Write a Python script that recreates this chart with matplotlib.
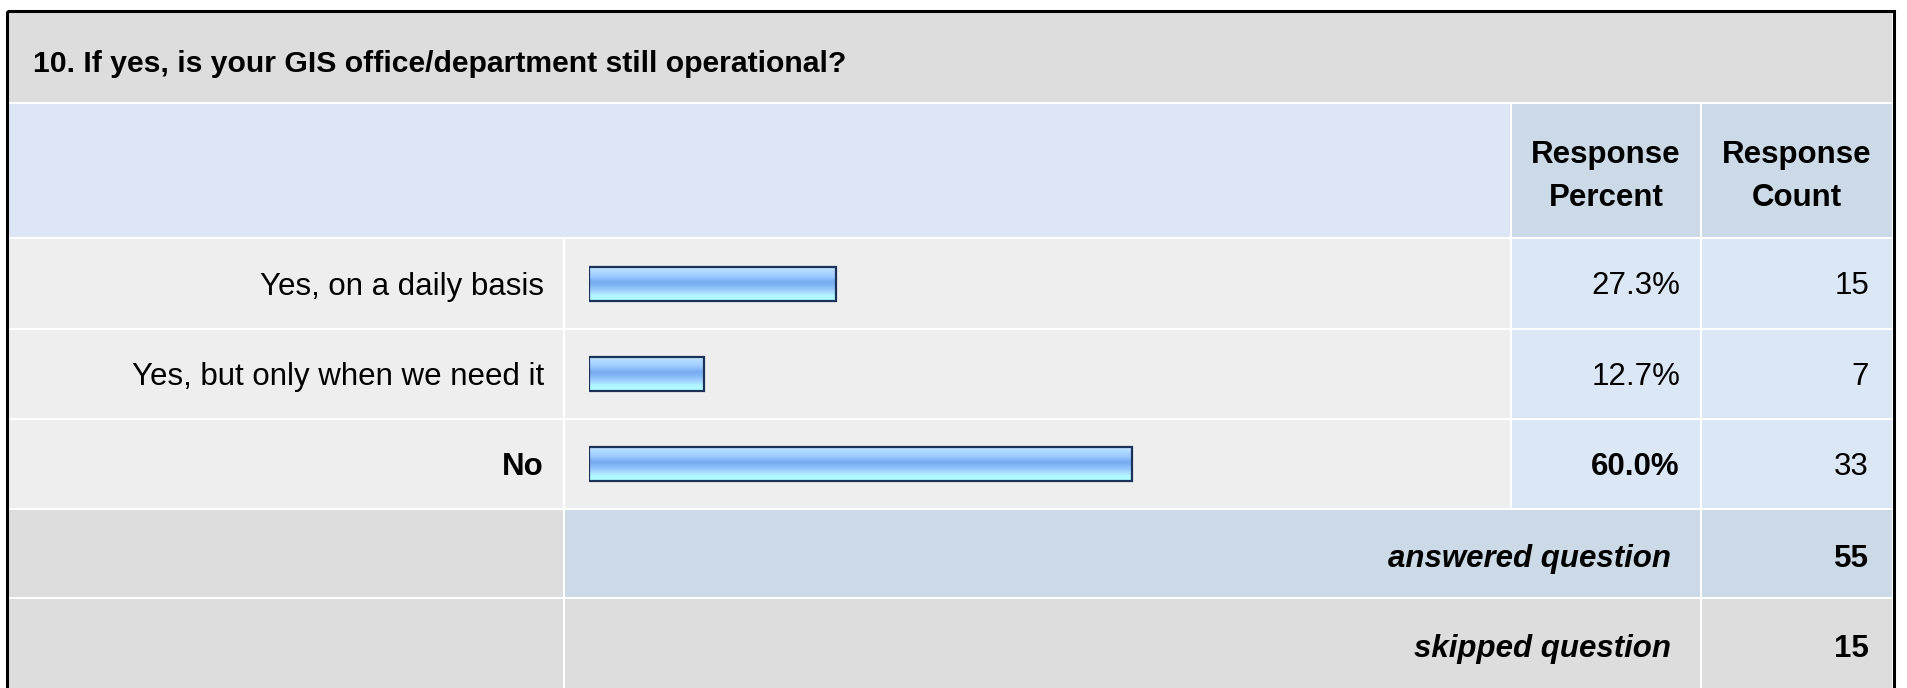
"""
Survey result table: question 10, GIS office still operational.
Drawn as a table of cells with a horizontal bar for each answer.
"""

import numpy as np
import matplotlib.pyplot as plt
from matplotlib.patches import Rectangle
from matplotlib.colors import LinearSegmentedColormap

# ==================== DATA ====================

question = '10. If yes, is your GIS office/department still operational?'
categories = ['Yes, on a daily basis', 'Yes, but only when we need it', 'No']
percents = [27.3, 12.7, 60.0]
counts = [15, 7, 33]
answered = 55
skipped = 15
col_headers = ['Response\nPercent', 'Response\nCount']

# ==================== LAYOUT (pixels) ====================

W, H = 1907, 688
FS = 22.5
plt.rcParams['font.family'] = ['Liberation Sans', 'DejaVu Sans']

# columns: label | bar | percent | count
x_lab = (9, 563)
x_bar = (565, 1510)
x_pct = (1512, 1700)
x_cnt = (1702, 1892)
# rows
y_title = (13, 102)
y_head = (104, 237)
y_rows = [(239, 328), (330, 418), (420, 508)]
y_ans = (510, 597)
y_skip = (599, 690)

GRAY = '#dddddd'
LIGHT = '#eeeeee'
BLUE_HEAD = '#dce6f4'
BLUE_COL = '#ccd9e6'
BLUE_CELL = '#dce7f5'

fig = plt.figure(figsize=(W / 100, H / 100), dpi=100)
fig.patch.set_facecolor('white')
ax = fig.add_axes([0, 0, 1, 1])
ax.set_xlim(0, W)
ax.set_ylim(H, 0)
ax.axis('off')


def cell(xr, yr, color):
    ax.add_patch(Rectangle((xr[0], yr[0]), xr[1] - xr[0], yr[1] - yr[0],
                           facecolor=color, edgecolor='none', zorder=1))


# title row
cell((x_lab[0], x_cnt[1]), y_title, GRAY)
ax.text(33, 64, question, fontsize=21.7, fontweight='bold',
        ha='left', va='center', zorder=3)

# header row
cell((x_lab[0], x_bar[1]), y_head, BLUE_HEAD)
cell(x_pct, y_head, BLUE_COL)
cell(x_cnt, y_head, BLUE_COL)
for xr, txt in zip([x_pct, x_cnt], col_headers):
    ax.text(sum(xr) / 2, sum(y_head) / 2 + 6, txt, fontsize=FS, fontweight='bold',
            ha='center', va='center', linespacing=1.55, zorder=3)

# answer rows
top = int(np.argmax(percents))
for i, (yr, lab, p, c) in enumerate(zip(y_rows, categories, percents, counts)):
    cell(x_lab, yr, LIGHT)
    cell(x_bar, yr, LIGHT)
    cell(x_pct, yr, BLUE_CELL)
    cell(x_cnt, yr, BLUE_CELL)
    yc = sum(yr) / 2 + 3
    w = 'bold' if i == top else 'normal'
    ax.text(544, yc, lab, fontsize=FS, fontweight=w, ha='right', va='center', zorder=3)
    ax.text(1680, yc, f'{p:.1f}%', fontsize=FS, fontweight=w, ha='right', va='center', zorder=3)
    ax.text(1869, yc, str(c), fontsize=FS, ha='right', va='center', zorder=3)

# answered / skipped rows
cell(x_lab, y_ans, GRAY)
cell((x_bar[0], x_pct[1]), y_ans, BLUE_COL)
cell(x_cnt, y_ans, BLUE_COL)
cell(x_lab, y_skip, GRAY)
cell((x_bar[0], x_pct[1]), y_skip, GRAY)
cell(x_cnt, y_skip, GRAY)
for yc, lab, n in [(559, 'answered question', answered), (649, 'skipped question', skipped)]:
    ax.text(1671, yc, lab, fontsize=FS, fontweight='bold', fontstyle='italic',
            ha='right', va='center', zorder=3)
    ax.text(1869, yc, str(n), fontsize=FS, fontweight='bold', ha='right', va='center', zorder=3)

# outer border
ax.add_patch(Rectangle((7, 11), 1887, 690, facecolor='none', edgecolor='black',
                       linewidth=2.2, zorder=5))

# ==================== BARS ====================

bx = fig.add_axes([589 / W, (H - 509) / H, 905 / W, 270 / H])
bx.axis('off')
bx.patch.set_alpha(0)

grad = LinearSegmentedColormap.from_list('glass', [
    (0.00, '#cde8ff'), (0.12, '#b2dbff'), (0.30, '#9ccaff'), (0.45, '#76a9ef'),
    (0.58, '#86b9f6'), (0.72, '#a3d4ff'), (0.84, '#b0f4ff'), (1.00, '#b0ffff')])
ramp = np.linspace(0, 1, 64).reshape(-1, 1)

bars = bx.barh(np.arange(len(categories)), percents, height=0.38, left=0,
               facecolor='none', edgecolor='#1c3158', linewidth=1.6, zorder=3)
for b in bars:
    x0, y0 = b.get_x(), b.get_y()
    bx.imshow(ramp, cmap=grad, aspect='auto', zorder=2,
              extent=[x0, x0 + b.get_width(), y0 + b.get_height(), y0])
bx.set_xlim(0, 100)
bx.set_ylim(len(categories) - 0.5, -0.5)

fig.savefig('out.png', dpi=100)
